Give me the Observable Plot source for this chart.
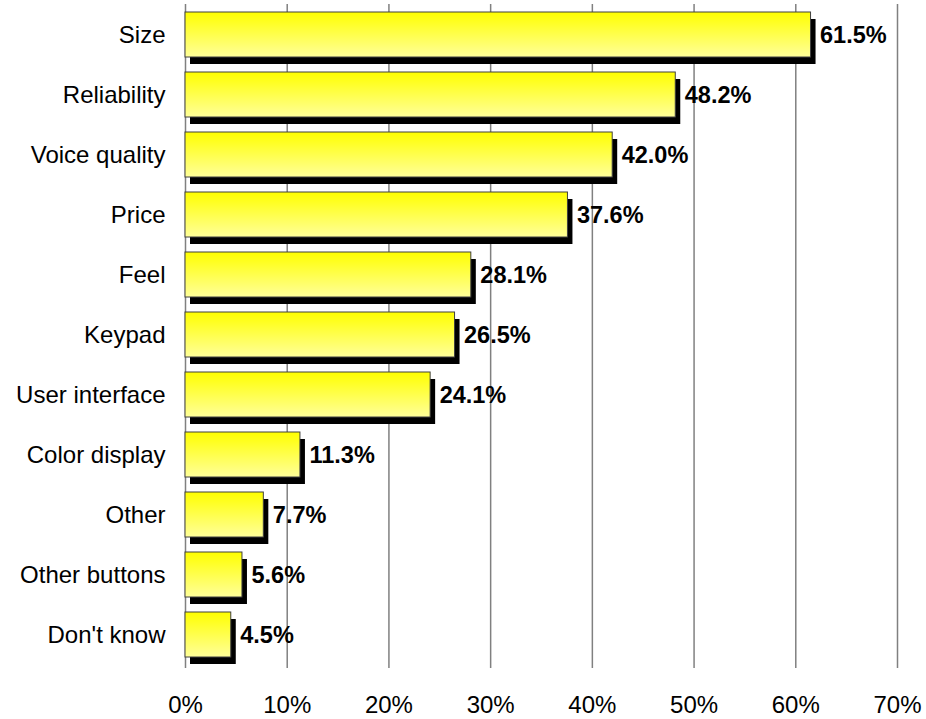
<!DOCTYPE html>
<html>
<head>
<meta charset="utf-8">
<script src="https://cdn.jsdelivr.net/npm/d3@7"></script>
<script src="https://cdn.jsdelivr.net/npm/@observablehq/plot@0.6"></script>
<style>
  html, body { margin: 0; padding: 0; background: #fff; }
  #chart svg { display: block; }
</style>
</head>
<body>
<div id="chart"></div>
<script>
const categories = ["Size", "Reliability", "Voice quality", "Price", "Feel", "Keypad", "User interface", "Color display", "Other", "Other buttons", "Don't know"];
const values = [61.5, 48.2, 42.0, 37.6, 28.1, 26.5, 24.1, 11.3, 7.7, 5.6, 4.5];
const xTicks = [0, 10, 20, 30, 40, 50, 60, 70];

const data = categories.map((c, i) => ({category: c, value: values[i]}));
const font = "'Liberation Sans', Arial, sans-serif";

const plot = Plot.plot({
  width: 926,
  height: 719,
  marginLeft: 185,
  marginRight: 29,
  marginTop: 4,
  marginBottom: 51,
  style: {fontFamily: font, fontSize: "24px", color: "#000", background: "#fff"},
  x: {domain: [0, 70], ticks: xTicks, tickFormat: d => d + "%"},
  y: {domain: categories, paddingInner: 0.25, paddingOuter: 0.125, insetBottom: 4},
  marks: [
    Plot.ruleX(xTicks, {stroke: "#808080", strokeWidth: 1.5}),
    Plot.barX(data, {x: "value", y: "category", fill: "#000", dx: 5, dy: 7}),
    Plot.barX(data, {x: "value", y: "category", fill: "url(#barGrad)", stroke: "#404040", strokeWidth: 1}),
    Plot.text(data, {x: "value", y: "category", text: d => d.value.toFixed(1) + "%", dx: 9, textAnchor: "start", fontWeight: "bold", fontSize: 23.5, fill: "#000"}),
    Plot.axisY({tickSize: 0, tickPadding: 20, fontSize: 24, label: null}),
    Plot.axisX({ticks: xTicks, tickSize: 0, tickPadding: 27, fontSize: 24, label: null, tickFormat: d => d + "%"})
  ]
});

const svg = d3.select(plot);
const defs = svg.insert("defs", ":first-child");
const grad = defs.append("linearGradient").attr("id", "barGrad").attr("x1", 0).attr("y1", 0).attr("x2", 0).attr("y2", 1);
grad.append("stop").attr("offset", "0%").attr("stop-color", "#ffff00");
grad.append("stop").attr("offset", "100%").attr("stop-color", "#ffff99");

document.getElementById("chart").appendChild(plot);
</script>
</body>
</html>
